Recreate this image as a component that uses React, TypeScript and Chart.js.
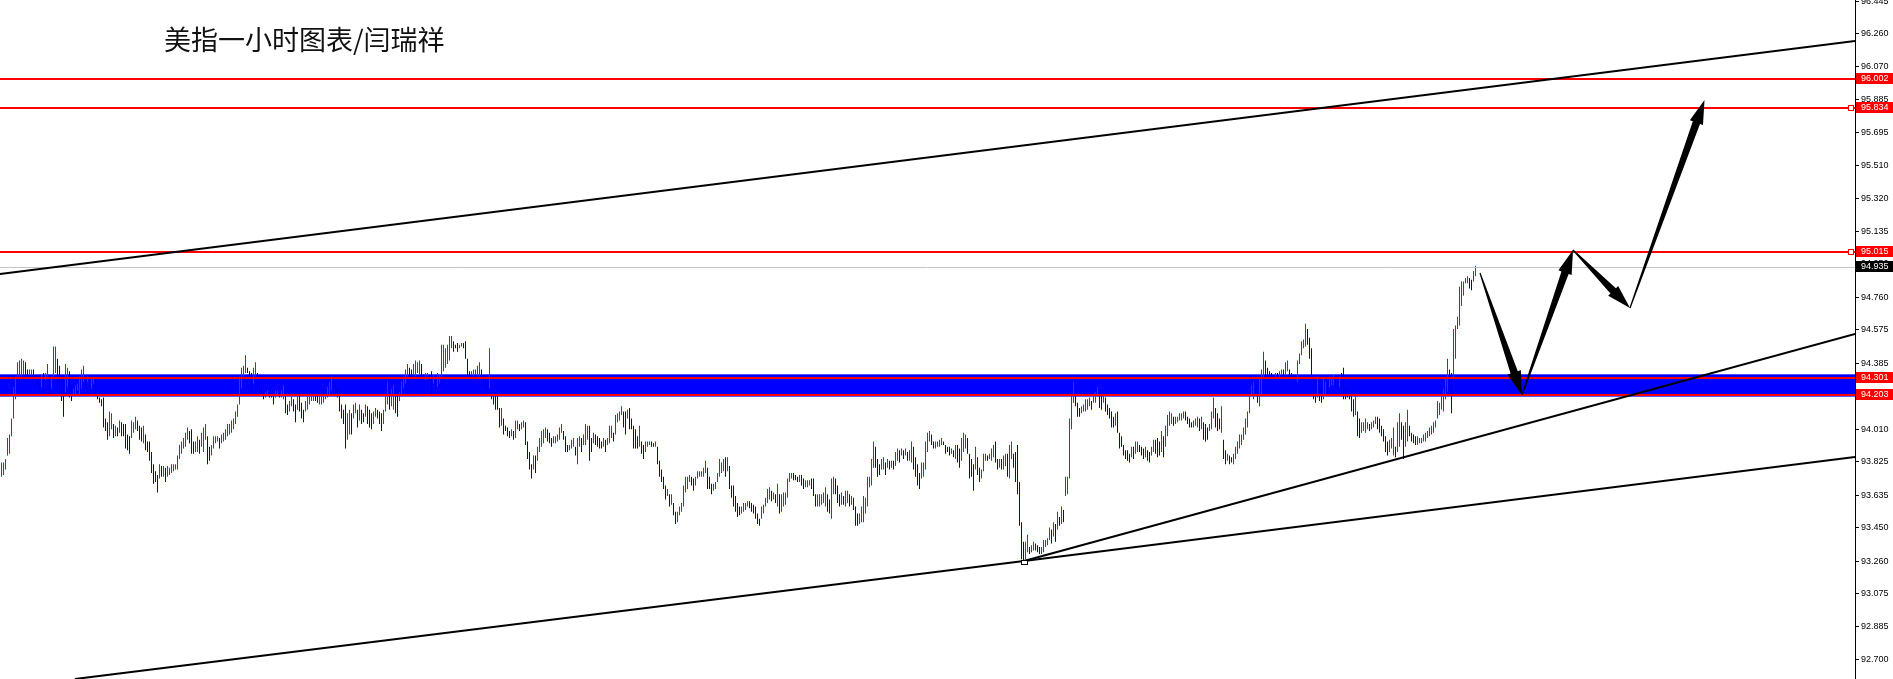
import React, { useEffect, useRef } from 'react';
import { Chart, registerables } from 'chart.js';

Chart.register(...registerables);

const TITLE = '美指一小时图表/闫瑞祥';

// hourly bars, oldest first: highs and lows
const HIGHS: number[] = [
  // part 1
  93.82,93.82,93.84,93.96,93.98,94.07,94.25,94.31,94.39,94.40,
  94.41,94.40,94.39,94.35,94.35,94.35,94.35,94.32,94.31,94.27,
  94.32,94.33,94.33,94.38,94.30,94.31,94.48,94.48,94.41,94.37,
  94.31,94.31,94.38,94.36,94.34,94.26,94.24,94.26,94.27,94.31,
  94.35,94.37,94.30,94.31,94.28,94.30,94.30,94.30,94.20,94.19,
  94.18,94.19,94.07,94.05,94.11,94.10,94.04,94.03,94.02,94.06,
  94.05,94.04,94.04,93.98,93.97,94.06,94.05,94.08,94.06,94.03,
  94.02,94.03,93.98,93.94,93.94,93.88,93.81,93.77,93.75,93.81,
  93.80,93.80,93.79,93.80,93.79,93.81,93.81,93.81,93.86,93.92,
  93.94,93.96,93.99,94.02,94.00,94.01,93.94,93.94,93.97,93.95,
  93.99,94.02,94.04,93.97,93.91,93.92,93.97,93.97,93.97,93.96,
  93.98,93.99,94.01,94.04,94.04,94.06,94.07,94.11,94.15,94.31,
  94.36,94.37,94.43,94.36,94.34,
  // part 2
  94.33,94.36,94.39,94.33,94.27,94.24,94.22,94.22,94.23,94.22,
  94.21,94.21,94.23,94.23,94.22,94.23,94.26,94.21,94.15,94.17,
  94.20,94.18,94.15,94.20,94.20,94.16,94.12,94.17,94.21,94.21,
  94.21,94.21,94.20,94.20,94.21,94.21,94.20,94.21,94.25,94.28,
  94.31,94.30,94.27,94.24,94.20,94.15,94.12,94.15,94.10,94.12,
  94.10,94.15,94.16,94.12,94.15,94.12,94.10,94.15,94.14,94.12,
  94.10,94.11,94.13,94.12,94.11,94.10,94.12,94.21,94.28,94.22,
  94.24,94.26,94.25,94.21,94.22,94.28,94.31,94.35,94.38,94.36,
  94.35,94.38,94.40,94.39,94.40,94.38,94.32,94.33,94.33,94.32,
  94.34,94.32,94.31,94.33,94.32,94.49,94.49,94.47,94.49,94.54,
  94.54,94.51,94.49,94.50,94.49,94.50,94.50,94.51,94.41,94.34,
  94.34,94.35,94.35,94.37,94.39,94.35,94.32,94.30,94.27,94.47,
  94.21,94.21,94.21,94.20,94.13,
  // part 3
  94.13,94.07,94.03,94.02,94.00,94.01,94.00,94.06,94.06,94.04,
  94.05,94.06,94.05,93.94,93.88,93.81,93.86,93.86,93.91,93.96,
  94.00,94.01,94.02,94.01,93.99,93.96,93.97,93.97,93.98,94.02,
  94.04,94.00,93.97,93.92,93.92,93.95,93.96,93.91,93.96,93.97,
  93.96,93.98,94.04,94.03,94.03,93.96,93.99,93.98,93.97,93.96,
  93.94,93.96,93.95,93.96,94.03,94.03,93.99,94.09,94.10,94.11,
  94.14,94.11,94.11,94.12,94.13,94.07,94.03,94.01,93.97,94.03,
  93.94,93.92,93.94,93.94,93.94,93.94,93.93,93.94,93.91,93.83,
  93.78,93.74,93.69,93.67,93.64,93.64,93.59,93.54,93.54,93.57,
  93.59,93.69,93.74,93.74,93.75,93.74,93.73,93.74,93.77,93.77,
  93.77,93.79,93.83,93.79,93.74,93.70,93.70,93.71,93.76,93.84,
  93.82,93.84,93.85,93.85,93.80,93.69,93.69,93.63,93.59,93.57,
  93.57,93.59,93.59,93.60,93.60,
  // part 4
  93.59,93.58,93.57,93.53,93.50,93.57,93.58,93.62,93.67,93.68,
  93.66,93.65,93.64,93.70,93.64,93.64,93.65,93.65,93.73,93.76,
  93.76,93.76,93.75,93.74,93.75,93.75,93.73,93.72,93.72,93.72,
  93.73,93.73,93.64,93.64,93.64,93.64,93.65,93.68,93.64,93.61,
  93.73,93.74,93.73,93.69,93.64,93.65,93.63,93.66,93.66,93.64,
  93.63,93.62,93.57,93.53,93.53,93.57,93.63,93.62,93.74,93.74,
  93.84,93.94,93.91,93.84,93.81,93.84,93.85,93.82,93.84,93.83,
  93.83,93.83,93.88,93.90,93.89,93.90,93.89,93.90,93.88,93.89,
  93.94,93.91,93.85,93.81,93.76,93.82,93.82,93.94,93.99,94.00,
  93.98,93.94,93.94,93.94,93.95,93.96,93.94,93.92,93.91,93.91,
  93.90,93.89,93.92,93.92,93.90,93.96,93.99,93.98,93.96,93.87,
  93.84,93.81,93.91,93.85,93.79,93.78,93.87,93.87,93.86,93.87,
  93.90,93.92,93.94,93.84,93.84,93.84,93.86,93.87,93.87,93.92,
  93.94,93.87,93.88,93.92,93.71,93.48,93.37,93.37,93.41,93.34,
  93.35,93.37,93.36,93.35,93.34,
  // part 5
  93.34,93.38,93.38,93.39,93.45,93.44,93.48,93.47,93.54,93.51,
  93.57,93.55,93.74,93.74,94.07,94.20,94.28,94.20,94.16,94.13,
  94.14,94.15,94.18,94.18,94.19,94.17,94.20,94.22,94.25,94.20,
  94.20,94.20,94.19,94.15,94.13,94.11,94.08,94.10,94.11,93.99,
  // part 6
  93.97,93.92,93.89,93.89,93.87,93.91,93.91,93.94,93.94,93.92,
  93.91,93.90,93.91,93.89,93.88,93.91,93.95,93.95,93.96,93.94,
  94.00,93.97,94.03,94.09,94.11,94.10,94.08,94.08,94.08,94.10,
  94.10,94.11,94.11,94.08,94.07,94.05,94.06,94.07,94.08,94.07,
  94.08,94.05,94.04,94.02,94.04,94.11,94.19,94.13,94.10,94.07,
  94.14,93.95,93.89,93.87,93.86,93.85,93.87,93.91,93.94,93.98,
  93.98,94.02,94.07,94.11,94.21,94.26,94.28,94.24,94.22,94.30,
  94.35,94.45,94.40,94.36,94.34,94.33,94.32,94.33,94.33,94.34,
  94.35,94.35,94.39,94.40,94.35,
  // part 7
  94.33,94.32,94.32,94.40,94.44,94.51,94.52,94.61,94.58,94.53,
  94.47,94.31,94.28,94.30,94.26,94.24,94.30,94.28,94.27,94.31,
  94.30,94.32,94.30,94.28,94.31,94.33,94.36,94.25,94.22,94.21,
  94.21,94.18,94.20,94.11,94.07,94.05,94.05,94.07,94.05,94.04,
  94.05,94.06,94.08,94.08,94.07,94.03,94.01,93.97,93.94,93.95,
  93.96,94.02,93.91,94.05,94.10,94.05,94.03,94.05,94.12,94.03,
  93.99,93.98,93.97,93.97,93.96,93.96,93.98,93.99,94.00,94.02,
  94.03,94.05,94.06,94.17,94.16,94.20,94.24,94.30,94.41,94.35,
  94.33,94.58,94.60,94.65,94.82,94.85,94.85,94.87,94.88,94.87,
  94.86,94.91,94.94,
];

const LOWS: number[] = [
  // part 1
  93.74,93.75,93.78,93.86,93.87,93.97,94.07,94.18,94.30,94.31,
  94.31,94.32,94.32,94.32,94.32,94.32,94.31,94.30,94.25,94.23,
  94.25,94.23,94.29,94.31,94.21,94.24,94.31,94.33,94.28,94.21,
  94.17,94.08,94.22,94.25,94.19,94.17,94.20,94.21,94.23,94.21,
  94.24,94.28,94.26,94.28,94.25,94.24,94.27,94.20,94.18,94.16,
  94.14,94.02,94.00,93.95,93.97,94.01,93.96,93.97,93.97,93.99,
  93.97,93.97,93.90,93.89,93.87,93.96,93.99,94.01,94.00,93.95,
  93.94,93.93,93.89,93.88,93.83,93.76,93.70,93.71,93.65,93.73,
  93.74,93.74,93.71,93.74,93.75,93.76,93.77,93.78,93.78,93.84,
  93.87,93.90,93.91,93.95,93.93,93.87,93.87,93.88,93.88,93.87,
  93.91,93.88,93.95,93.81,93.83,93.86,93.90,93.93,93.94,93.90,
  93.93,93.94,93.95,93.97,93.98,93.99,94.01,94.04,94.08,94.15,
  94.24,94.31,94.33,94.33,94.31,
  // part 2
  94.23,94.27,94.31,94.25,94.22,94.21,94.18,94.19,94.20,94.19,
  94.19,94.15,94.19,94.20,94.19,94.19,94.18,94.10,94.09,94.11,
  94.14,94.11,94.05,94.12,94.11,94.07,94.05,94.11,94.12,94.15,
  94.17,94.17,94.17,94.16,94.15,94.15,94.16,94.18,94.19,94.21,
  94.23,94.21,94.20,94.19,94.11,94.07,94.04,93.90,93.95,93.98,
  93.98,94.07,94.10,94.02,94.06,94.04,94.05,94.08,94.04,94.02,
  94.01,94.04,94.08,94.07,94.04,94.00,94.04,94.11,94.15,94.12,
  94.14,94.12,94.10,94.08,94.17,94.20,94.24,94.27,94.31,94.31,
  94.31,94.32,94.31,94.33,94.32,94.31,94.30,94.29,94.31,94.30,
  94.21,94.27,94.24,94.25,94.27,94.30,94.34,94.36,94.38,94.40,
  94.47,94.45,94.47,94.45,94.47,94.48,94.47,94.41,94.32,94.31,
  94.32,94.31,94.32,94.31,94.31,94.31,94.27,94.24,94.23,94.24,
  94.18,94.15,94.12,94.12,94.02,
  // part 3
  94.03,93.98,94.00,93.97,93.96,93.97,93.95,93.96,94.01,94.00,
  94.01,94.02,93.92,93.84,93.78,93.73,93.78,93.76,93.83,93.88,
  93.91,93.93,93.96,93.94,93.93,93.91,93.93,93.93,93.94,93.95,
  93.99,93.95,93.88,93.88,93.89,93.90,93.91,93.86,93.81,93.91,
  93.88,93.92,93.92,93.95,93.83,93.88,93.93,93.92,93.91,93.90,
  93.90,93.91,93.88,93.92,93.93,93.96,93.94,93.98,94.05,94.06,
  94.09,94.02,93.98,94.07,94.01,94.01,93.90,93.90,93.90,93.91,
  93.87,93.84,93.88,93.91,93.92,93.91,93.91,93.91,93.81,93.74,
  93.71,93.67,93.61,93.63,93.57,93.58,93.52,93.47,93.48,93.52,
  93.54,93.57,93.65,93.67,93.71,93.69,93.66,93.69,93.73,93.74,
  93.74,93.74,93.76,93.67,93.67,93.64,93.66,93.67,93.71,93.74,
  93.76,93.77,93.74,93.77,93.67,93.62,93.57,93.54,93.51,93.52,
  93.53,93.54,93.55,93.57,93.56,
  // part 4
  93.54,93.53,93.50,93.47,93.46,93.50,93.53,93.57,93.59,93.61,
  93.60,93.61,93.59,93.57,93.53,93.54,93.57,93.58,93.62,93.71,
  93.73,93.72,93.72,93.71,93.71,93.69,93.67,93.68,93.68,93.69,
  93.67,93.63,93.57,93.57,93.57,93.58,93.59,93.57,93.54,93.53,
  93.50,93.64,93.64,93.59,93.57,93.58,93.58,93.57,93.59,93.57,
  93.58,93.55,93.46,93.46,93.47,93.48,93.48,93.53,93.57,93.68,
  93.69,93.79,93.79,93.74,93.75,93.78,93.78,93.75,93.79,93.78,
  93.79,93.78,93.80,93.83,93.82,93.86,93.84,93.86,93.83,93.83,
  93.82,93.78,93.74,93.69,93.67,93.73,93.74,93.78,93.88,93.94,
  93.92,93.90,93.90,93.91,93.91,93.92,93.92,93.87,93.88,93.86,
  93.87,93.85,93.84,93.82,93.79,93.83,93.88,93.90,93.87,93.73,
  93.74,93.66,93.78,93.75,93.71,93.73,93.77,93.83,93.83,93.84,
  93.83,93.85,93.82,93.78,93.79,93.78,93.78,93.80,93.74,93.73,
  93.84,93.79,93.71,93.64,93.46,93.27,93.26,93.27,93.31,93.30,
  93.31,93.32,93.32,93.31,93.30,
  // part 5
  93.30,93.31,93.34,93.35,93.38,93.36,93.40,93.37,93.44,93.46,
  93.47,93.48,93.63,93.64,93.73,94.01,94.16,94.14,94.08,94.08,
  94.10,94.11,94.11,94.12,94.14,94.12,94.16,94.16,94.20,94.13,
  94.12,94.16,94.11,94.09,94.07,94.02,94.02,94.03,93.99,93.90,
  // part 6
  93.91,93.86,93.84,93.83,93.82,93.85,93.84,93.87,93.88,93.88,
  93.86,93.84,93.85,93.83,93.82,93.86,93.88,93.87,93.85,93.86,
  93.88,93.85,93.91,93.97,94.03,94.04,94.03,94.04,94.05,94.06,
  94.06,94.07,94.06,94.04,94.02,94.02,94.02,94.03,94.02,94.00,
  94.01,93.95,93.94,93.95,94.00,94.01,94.07,94.02,94.00,94.01,
  93.99,93.84,93.81,93.83,93.81,93.82,93.81,93.84,93.87,93.90,
  93.92,93.95,93.98,94.02,94.10,94.20,94.18,94.20,94.16,94.14,
  94.21,94.30,94.31,94.31,94.32,94.30,94.30,94.31,94.30,94.31,
  94.32,94.31,94.32,94.34,94.31,
  // part 7
  94.30,94.30,94.29,94.28,94.38,94.43,94.47,94.48,94.49,94.41,
  94.31,94.18,94.16,94.19,94.17,94.16,94.18,94.20,94.20,94.25,
  94.26,94.26,94.25,94.25,94.25,94.22,94.18,94.18,94.19,94.18,
  94.11,94.08,94.09,93.97,93.96,93.99,94.00,93.99,94.01,94.00,
  94.01,94.02,94.04,94.01,93.99,93.97,93.94,93.88,93.86,93.88,
  93.90,93.86,93.85,93.88,93.91,93.95,93.84,93.91,93.94,93.97,
  93.94,93.93,93.92,93.92,93.93,93.93,93.94,93.94,93.96,93.97,
  93.98,93.99,94.02,94.07,94.09,94.12,94.11,94.18,94.22,94.26,
  94.10,94.30,94.41,94.58,94.60,94.71,94.77,94.84,94.84,94.81,
  94.80,94.85,94.88,
];

const Y_TICKS = [
  96.445, 96.26, 96.07, 95.885, 95.695, 95.51, 95.32, 95.135, 94.95, 94.76, 94.575,
  94.385, 94.195, 94.01, 93.825, 93.635, 93.45, 93.26, 93.075, 92.885, 92.7,
];
const Y_MIN = 92.589;
const Y_MAX = 96.451;
const X_MIN = -0.75;
const X_MAX = 926.75;

const RED_LEVELS = [96.002, 95.834, 95.015, 94.301, 94.203];
const MARKED_LEVELS = [95.834, 95.015];
const LAST_PRICE = 94.935;
const ZONE_LOW = 94.195;
const ZONE_HIGH = 94.322;

// trend lines: [bar index, price] -> [bar index, price]
const TREND_FROM_X = [-0.75, 36.75, 511.25, 511.25];
const TREND_FROM_Y = [94.893, 92.589, 93.26, 93.26];
const TREND_TO_X = [926.75, 511.25, 926.75, 926.75];
const TREND_TO_Y = [96.218, 93.26, 93.852, 94.551];

// projected path arrows
const ARROW_FROM_X = [739.25, 760.25, 785.75, 814.25];
const ARROW_FROM_Y = [94.898, 94.204, 95.029, 94.699];
const ARROW_TO_X = [760.25, 785.75, 814.25, 851.5];
const ARROW_TO_Y = [94.204, 95.029, 94.699, 95.882];

const UP_COLOR = '#e00010';
const DOWN_COLOR = '#0000b4';

function drawArrow(ctx: CanvasRenderingContext2D, x1: number, y1: number, x2: number, y2: number) {
  const dx = x2 - x1;
  const dy = y2 - y1;
  const L = Math.hypot(dx, dy);
  const ux = dx / L, uy = dy / L;
  const nx = -uy, ny = ux;
  const head = Math.min(24, L * 0.3);
  const hw = 7, sw0 = 0.6, sw1 = 3.8;
  const bx = x2 - ux * head, by = y2 - uy * head;
  ctx.beginPath();
  ctx.moveTo(x1 + nx * sw0, y1 + ny * sw0);
  ctx.lineTo(bx + nx * sw1, by + ny * sw1);
  ctx.lineTo(bx + nx * hw, by + ny * hw);
  ctx.lineTo(x2, y2);
  ctx.lineTo(bx - nx * hw, by - ny * hw);
  ctx.lineTo(bx - nx * sw1, by - ny * sw1);
  ctx.lineTo(x1 - nx * sw0, y1 - ny * sw0);
  ctx.closePath();
  ctx.fill();
}

const overlayPlugin = {
  id: 'overlay',
  beforeDatasetsDraw(chart: any) {
    const { ctx, chartArea: a, scales } = chart;
    const y = scales.y;
    ctx.save();
    const t = y.getPixelForValue(ZONE_HIGH);
    const b = y.getPixelForValue(ZONE_LOW);
    ctx.fillStyle = '#0000ff';
    ctx.fillRect(a.left, t, a.right - a.left, b - t);
    ctx.restore();
  },
  afterDraw(chart: any) {
    const { ctx, chartArea: a, scales } = chart;
    const x = scales.x, y = scales.y;
    ctx.save();
    ctx.beginPath();
    ctx.rect(a.left, a.top, a.right - a.left, a.bottom - a.top);
    ctx.clip();

    // last price line
    const lp = Math.round(y.getPixelForValue(LAST_PRICE)) + 0.5;
    ctx.strokeStyle = '#c4c4c4';
    ctx.lineWidth = 1;
    ctx.beginPath();
    ctx.moveTo(a.left, lp);
    ctx.lineTo(a.right, lp);
    ctx.stroke();

    // red levels
    ctx.strokeStyle = '#ff0000';
    ctx.lineWidth = 2;
    RED_LEVELS.forEach((v) => {
      const py = Math.round(y.getPixelForValue(v));
      ctx.beginPath();
      ctx.moveTo(a.left, py);
      ctx.lineTo(a.right, py);
      ctx.stroke();
    });
    ctx.lineWidth = 1;
    MARKED_LEVELS.forEach((v) => {
      const py = Math.round(y.getPixelForValue(v));
      ctx.fillStyle = '#ffffff';
      ctx.fillRect(a.right - 6, py - 2, 4, 4);
      ctx.strokeRect(a.right - 6.5, py - 2.5, 5, 5);
    });

    // trend lines
    ctx.strokeStyle = '#000000';
    ctx.lineWidth = 2;
    for (let i = 0; i < TREND_FROM_X.length; i++) {
      ctx.beginPath();
      ctx.moveTo(x.getPixelForValue(TREND_FROM_X[i]), y.getPixelForValue(TREND_FROM_Y[i]));
      ctx.lineTo(x.getPixelForValue(TREND_TO_X[i]), y.getPixelForValue(TREND_TO_Y[i]));
      ctx.stroke();
    }
    ctx.lineWidth = 1;
    const ax = Math.round(x.getPixelForValue(TREND_FROM_X[2]));
    const ay = Math.round(y.getPixelForValue(TREND_FROM_Y[2]));
    ctx.fillStyle = '#ffffff';
    ctx.fillRect(ax - 2, ay, 5, 3);
    ctx.strokeRect(ax - 2.5, ay - 0.5, 6, 4);

    // arrows
    ctx.fillStyle = '#000000';
    for (let i = 0; i < ARROW_FROM_X.length; i++) {
      drawArrow(
        ctx,
        x.getPixelForValue(ARROW_FROM_X[i]), y.getPixelForValue(ARROW_FROM_Y[i]),
        x.getPixelForValue(ARROW_TO_X[i]), y.getPixelForValue(ARROW_TO_Y[i]),
      );
    }

    // title
    ctx.fillStyle = '#111111';
    ctx.font = '27px "Noto Sans CJK SC", sans-serif';
    ctx.textBaseline = 'middle';
    ctx.textAlign = 'left';
    ctx.fillText(TITLE, 164, 40);
    ctx.restore();

    // price tags on the axis
    ctx.save();
    ctx.font = '9px "Liberation Sans", Arial, sans-serif';
    ctx.textBaseline = 'middle';
    ctx.textAlign = 'left';
    const tag = (v: number, bg: string) => {
      const py = Math.round(y.getPixelForValue(v));
      ctx.fillStyle = bg;
      ctx.fillRect(a.right + 1, py - 6, chart.width - a.right - 1, 11);
      ctx.fillStyle = '#ffffff';
      ctx.fillText(v.toFixed(3), a.right + 6, py);
    };
    RED_LEVELS.forEach((v) => tag(v, '#ff0000'));
    tag(LAST_PRICE, '#000000');
    ctx.restore();
  },
};

export default function App() {
  const ref = useRef<HTMLCanvasElement | null>(null);

  useEffect(() => {
    const canvas = ref.current;
    if (!canvas) return;
    const colors = HIGHS.map((h, i) => {
      if (i === 0) return UP_COLOR;
      return h + LOWS[i] >= HIGHS[i - 1] + LOWS[i - 1] ? UP_COLOR : DOWN_COLOR;
    });
    const chart = new Chart(canvas, {
      type: 'bar',
      data: {
        datasets: [
          {
            data: HIGHS.map((h, i) => ({ x: i, y: [LOWS[i], h] })) as any,
            backgroundColor: colors,
            borderWidth: 0,
            barThickness: 1,
            inflateAmount: 0,
          } as any,
        ],
      },
      options: {
        responsive: false,
        animation: false,
        devicePixelRatio: 1,
        events: [],
        layout: { padding: 0 },
        plugins: { legend: { display: false }, tooltip: { enabled: false } },
        scales: {
          x: {
            type: 'linear',
            display: false,
            min: X_MIN,
            max: X_MAX,
            offset: false,
            grid: { offset: false },
          },
          y: {
            type: 'linear',
            position: 'right',
            min: Y_MIN,
            max: Y_MAX,
            afterBuildTicks: (s: any) => {
              s.ticks = Y_TICKS.map((v) => ({ value: v }));
            },
            afterFit: (s: any) => {
              s.width = 38;
              s.paddingTop = 0;
              s.paddingBottom = 0;
            },
            grid: { drawOnChartArea: false, drawTicks: true, tickLength: 4, color: '#000000', lineWidth: 1 },
            border: { display: true, color: '#000000', width: 1 },
            ticks: {
              autoSkip: false,
              padding: 2,
              color: '#000000',
              font: { family: '"Liberation Sans", Arial, sans-serif', size: 9 },
              callback: (v: any) => Number(v).toFixed(3),
            },
          },
        },
      } as any,
      plugins: [overlayPlugin],
    });
    return () => chart.destroy();
  }, []);

  return (
    <div style={{ position: 'fixed', left: 0, top: 0, width: 1893, height: 679, background: '#ffffff', overflow: 'hidden' }}>
      <canvas ref={ref} width={1893} height={679} style={{ display: 'block' }} />
    </div>
  );
}
